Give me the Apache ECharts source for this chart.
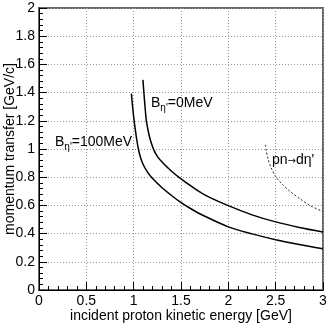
<!DOCTYPE html>
<html>
<head>
<meta charset="utf-8">
<script src="https://cdn.jsdelivr.net/npm/echarts@6/dist/echarts.min.js"></script>
<style>
  html, body { margin: 0; padding: 0; background: #fff; }
  #chart { width: 327px; height: 328px; }
</style>
</head>
<body>
<div id="chart"></div>
<script>
// curves: [kinetic energy GeV, momentum transfer GeV/c]
var curveB0 = [
  [1.098, 1.49], [1.109, 1.39], [1.12, 1.30], [1.134, 1.2], [1.15, 1.14], [1.17, 1.08],
  [1.19, 1.035], [1.215, 0.99], [1.25, 0.948], [1.31, 0.90], [1.4, 0.842], [1.486, 0.795],
  [1.6, 0.74], [1.75, 0.675], [2.0, 0.598], [2.25, 0.533], [2.5, 0.483], [2.75, 0.444], [3.0, 0.412]
];
var curveB100 = [
  [0.976, 1.393], [0.99, 1.29], [1.005, 1.2], [1.02, 1.125], [1.035, 1.055], [1.05, 1.0],
  [1.07, 0.945], [1.1, 0.89], [1.15, 0.832], [1.2, 0.79], [1.3, 0.725], [1.4, 0.67],
  [1.49, 0.625], [1.6, 0.578], [1.73, 0.53], [2.0, 0.448], [2.25, 0.398], [2.5, 0.357],
  [2.75, 0.322], [3.0, 0.292]
];
var curveDEta = [
  [2.39, 1.03], [2.40, 0.99], [2.42, 0.93], [2.45, 0.87], [2.5, 0.805], [2.57, 0.75],
  [2.65, 0.70], [2.75, 0.65], [2.86, 0.60], [3.0, 0.556]
];
var xTicks = ['0', '0.5', '1', '1.5', '2', '2.5', '3'];
var xTitle = 'incident proton kinetic energy [GeV]';
var yTitle = 'momentum transfer [GeV/c]';

var font = 'Liberation Sans';
var chart = echarts.init(document.getElementById('chart'));

var rich = {
  b: { fontFamily: font, fontSize: 14, color: '#000', verticalAlign: 'top', lineHeight: 16 },
  s: { fontFamily: font, fontSize: 10, color: '#000', verticalAlign: 'top', padding: [7, 0, 0, 0], lineHeight: 12 },
  a: { fontFamily: 'DejaVu Sans', fontSize: 10, color: '#000', verticalAlign: 'middle' }
};

function lineSeries(data, dashed) {
  return {
    type: 'line',
    data: data,
    smooth: 0.3,
    symbol: 'none',
    silent: true,
    lineStyle: dashed
      ? { color: '#222', width: 1, type: [2, 2] }
      : { color: '#000', width: 1.5 }
  };
}

chart.setOption({
  animation: false,
  backgroundColor: '#fff',
  grid: {
    left: 39, right: 4, top: 8, bottom: 38,
    outerBoundsMode: 'none', containLabel: false,
    show: true, borderColor: '#666', borderWidth: 2
  },
  xAxis: {
    type: 'value', min: 0, max: 3, interval: 0.5,
    name: xTitle, nameLocation: 'middle', nameGap: 19, nameMoveOverlap: false,
    nameTextStyle: { fontFamily: font, fontSize: 14, color: '#000' },
    axisLine: { lineStyle: { color: '#000', width: 1 } },
    axisTick: { inside: true, length: 8, lineStyle: { color: '#000' } },
    minorTick: { show: true, splitNumber: 5, length: 4, lineStyle: { color: '#000' } },
    axisLabel: {
      margin: 4, fontFamily: font, fontSize: 14, color: '#000',
      formatter: function (v) { return xTicks[Math.round(v / 0.5)]; }
    },
    splitLine: { show: true, lineStyle: { color: '#999', type: [1, 2], width: 1 } }
  },
  yAxis: {
    type: 'value', min: 0, max: 2, interval: 0.2,
    name: yTitle, nameLocation: 'middle', nameGap: 22, nameMoveOverlap: false,
    nameTextStyle: { fontFamily: font, fontSize: 14, color: '#000' },
    axisLine: { lineStyle: { color: '#000', width: 1 } },
    axisTick: { inside: true, length: 8, lineStyle: { color: '#000' } },
    minorTick: { show: true, splitNumber: 5, length: 4, lineStyle: { color: '#000' } },
    axisLabel: { margin: 4, fontFamily: font, fontSize: 14, color: '#000' },
    splitLine: { show: true, lineStyle: { color: '#999', type: [1, 2], width: 1 } }
  },
  series: [
    lineSeries(curveB0, false),
    lineSeries(curveB100, false),
    lineSeries(curveDEta, true)
  ],
  graphic: [
    { type: 'text', left: 151, top: 96, style: { text: "{b|B}{s|η'}{b|=0MeV}", rich: rich } },
    { type: 'text', left: 55, top: 135, style: { text: "{b|B}{s|η'}{b|=100MeV}", rich: rich } },
    { type: 'text', left: 272, top: 153, style: { text: "{b|pn}{a|→}{b|dη'}", rich: rich } }
  ]
});
</script>
</body>
</html>
